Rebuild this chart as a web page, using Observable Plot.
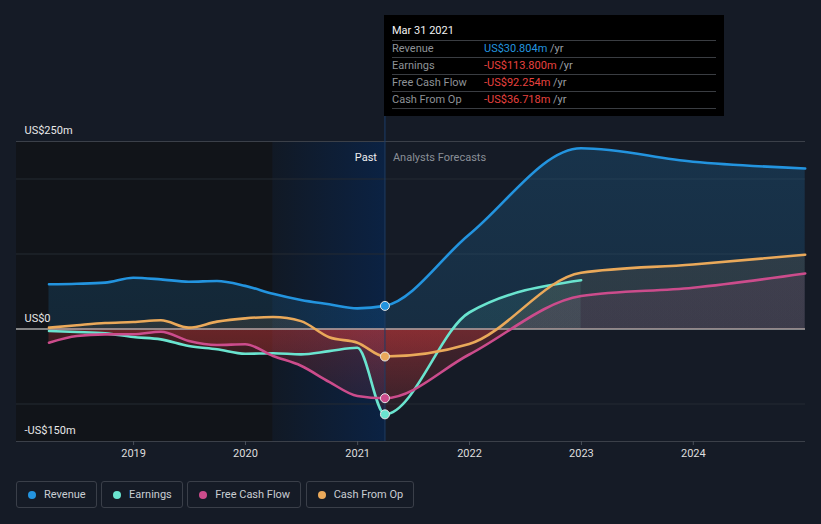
<!DOCTYPE html>
<html>
<head>
<meta charset="utf-8">
<script src="https://cdn.jsdelivr.net/npm/d3@7"></script>
<script src="https://cdn.jsdelivr.net/npm/@observablehq/plot@0.6"></script>
<style>
  html, body { margin: 0; padding: 0; }
  body { background: #151b26; width: 821px; height: 524px; overflow: hidden; position: relative; font-family: Roboto, "Noto Sans", sans-serif; }
  #chart { position: absolute; left: 0; top: 0; }
  #tip { position: absolute; left: 384px; top: 15px; width: 340px; height: 101px; background: #000; font-size: 11px; line-height: 11px; }
  #tip .t { position: absolute; left: 8px; color: #f2f2f2; }
  #tip .sep { position: absolute; left: 8px; width: 324px; height: 1px; background: #3a3d42; }
  #tip .lab { position: absolute; left: 8px; color: #8e9297; }
  #tip .val { position: absolute; left: 100px; }
  #tip .yr { color: #9a9ea3; }
  #legend { position: absolute; left: 16px; top: 481px; display: flex; gap: 4.5px; }
  #legend .item { height: 25px; border: 1px solid #3a3f49; border-radius: 3px; display: flex; align-items: center; padding: 0 10px 0 11px; font-size: 11px; color: #c9cdd3; }
  #legend .dot { width: 8px; height: 8px; border-radius: 50%; margin-right: 8px; }
</style>
</head>
<body>
<div id="chart"></div>
<div id="tip"></div>
<div id="legend"></div>
<script>
// ---- data ----
const quarterDates = ["2018-03-31","2018-06-30","2018-09-30","2018-12-31","2019-03-31","2019-06-30","2019-09-30","2019-12-31","2020-03-31","2020-06-30","2020-09-30","2020-12-31","2021-03-31"];
const forecastDates = ["2021-12-31","2022-12-31","2023-12-31","2024-12-31"];

const revenuePast = [59.6, 60.3, 61.8, 68.4, 66.2, 63.0, 64.0, 57.5, 47.0, 38.7, 33.0, 27.5, 30.804];
const revenueForecast = [126, 241, 223, 214];
const earningsPast = [-2.7, -4.0, -5.8, -10.7, -13.8, -22.7, -27.0, -33.0, -32.4, -33.8, -29.5, -25.0, -113.8];
const earningsForecast = [22, 65];
const fcfPast = [-18.2, -9.3, -7.2, -7.0, -3.6, -16.0, -21.3, -20.4, -36.0, -49.0, -70.5, -89.3, -92.254];
const fcfForecast = [-34, 44, 55, 74];
const cfoPast = [1.8, 5.0, 8.0, 9.3, 11.6, 1.8, 9.8, 14.2, 16.0, 10.5, -11.0, -18.2, -36.718];
const cfoForecast = [-20, 75, 86, 99];

const seriesNames = ["Revenue", "Earnings", "Free Cash Flow", "Cash From Op"];
const seriesColors = ["#2394df", "#6ae4cf", "#cc4c8c", "#eaa95a"];

const yTickValues = [250, 0, -150];
const yTickLabels = ["US$250m", "US$0", "-US$150m"];
const gridValues = [200, 100, -100];
const xTickYears = [2019, 2020, 2021, 2022, 2023, 2024];
const xDomain = ["2017-12-15", "2025-01-01"];
const highlightStart = "2020-03-31";
const pastEnd = "2021-03-31";

const tooltipDate = "Mar 31 2021";
const tooltipValues = ["US$30.804m", "-US$113.800m", "-US$92.254m", "-US$36.718m"];
const tooltipColors = ["#2394df", "#e8423f", "#e8423f", "#e8423f"];

// ---- build tables ----
function rows(past, fc) {
  const out = past.map((v, i) => ({date: new Date(quarterDates[i]), value: v}));
  fc.forEach((v, i) => out.push({date: new Date(forecastDates[i]), value: v}));
  return out;
}
const series = [
  rows(revenuePast, revenueForecast),
  rows(earningsPast, earningsForecast),
  rows(fcfPast, fcfForecast),
  rows(cfoPast, cfoForecast)
];
const dotOrder = [3, 2, 1, 0];
const dotRows = dotOrder.map(i => ({date: series[i][quarterDates.length - 1].date, value: series[i][quarterDates.length - 1].value, color: seriesColors[i]}));

const chart = Plot.plot({
  width: 821,
  height: 470,
  marginLeft: 16,
  marginRight: 16,
  marginTop: 141,
  marginBottom: 29,
  style: {background: "transparent", fontFamily: "Roboto, sans-serif", fontSize: "11px", overflow: "visible"},
  x: {type: "utc", domain: xDomain.map(d => new Date(d)), axis: null},
  y: {domain: [-150, 250], axis: null},
  marks: [
    Plot.rect([{x1: new Date(xDomain[0]), x2: new Date(highlightStart)}], {x1: "x1", x2: "x2", y1: -150, y2: 250, fill: "#111419"}),
    Plot.rect([{x1: new Date(highlightStart), x2: new Date(pastEnd)}], {x1: "x1", x2: "x2", y1: -150, y2: 250, fill: "url(#band)"}),
    Plot.ruleY(gridValues, {stroke: "#242a33"}),
    Plot.ruleY([250], {stroke: "#3b4049"}),
    Plot.ruleY([-150], {stroke: "#3b4049"}),
    ...series.map((s, i) => Plot.areaY(s, {x: "date", y: "value", curve: "monotone-x", fill: `url(#area${i})`})),
    Plot.ruleY([0], {stroke: "#a9a9a9", strokeWidth: 1.6}),
    Plot.ruleX([new Date(pastEnd)], {stroke: "#1b3d6a", insetTop: -126}),
    ...series.map((s, i) => Plot.line(s, {x: "date", y: "value", curve: "monotone-x", stroke: seriesColors[i], strokeWidth: 2.6})),
    Plot.dot(dotRows, {x: "date", y: "value", fill: "color", stroke: "#e6e6e6", strokeWidth: 1, r: 4.5}),
    Plot.text(yTickValues, {y: d => d, text: (d, i) => yTickLabels[i], frameAnchor: "left", dx: 8, dy: -11, textAnchor: "start", fill: "#e8e8e8"}),
    Plot.text([new Date(pastEnd)], {x: d => d, text: ["Past"], frameAnchor: "top", dx: -8, dy: 12, textAnchor: "end", fill: "#eeeeee"}),
    Plot.text([new Date(pastEnd)], {x: d => d, text: ["Analysts Forecasts"], frameAnchor: "top", dx: 8, dy: 12, textAnchor: "start", fill: "#8a8f97"}),
    Plot.axisX(xTickYears.map(y => new Date(Date.UTC(y, 0, 1))), {tickFormat: d => String(d.getUTCFullYear()), tickSize: 4, tickPadding: 4, stroke: "#4a505a", fill: "#dedede", label: null})
  ]
});

// gradients
const yS = chart.scale("y");
const yTop = yS.apply(250), yBot = yS.apply(-150), y0 = yS.apply(0);
const z = (y0 - yTop) / (yBot - yTop);
const ns = "http://www.w3.org/2000/svg";
const defs = document.createElementNS(ns, "defs");
function grad(id, attrs, stops) {
  const g = document.createElementNS(ns, "linearGradient");
  g.setAttribute("id", id);
  for (const k in attrs) g.setAttribute(k, attrs[k]);
  for (const [o, c, op] of stops) {
    const s = document.createElementNS(ns, "stop");
    s.setAttribute("offset", o);
    s.setAttribute("stop-color", c);
    s.setAttribute("stop-opacity", op);
    g.appendChild(s);
  }
  defs.appendChild(g);
}
grad("band", {x1: 0, x2: 1, y1: 0, y2: 0}, [[0, "#111925", 1], [1, "#0b2243", 1]]);
const vert = {gradientUnits: "userSpaceOnUse", x1: 0, x2: 0, y1: yTop, y2: yBot};
grad("area0", vert, [[0, seriesColors[0], 0.2], [z, seriesColors[0], 0.15], [z, "#e03c3c", 0.2], [1, "#e03c3c", 0.03]]);
grad("area1", vert, [[0, seriesColors[1], 0.12], [z, seriesColors[1], 0.1], [z, "#e03c3c", 0.24], [1, "#e03c3c", 0.03]]);
grad("area2", vert, [[0, seriesColors[2], 0.12], [z, seriesColors[2], 0.1], [z, "#e03c3c", 0.24], [1, "#e03c3c", 0.03]]);
grad("area3", vert, [[0, seriesColors[3], 0.12], [z, seriesColors[3], 0.1], [z, "#e03c3c", 0.24], [1, "#e03c3c", 0.03]]);
chart.insertBefore(defs, chart.firstChild);
document.getElementById("chart").appendChild(chart);

// tooltip
const tip = document.getElementById("tip");
let html = `<div class="t" style="top:10px">${tooltipDate}</div>`;
const sepTops = [25, 42, 59, 76, 93];
sepTops.forEach(t => html += `<div class="sep" style="top:${t}px"></div>`);
seriesNames.forEach((n, i) => {
  const top = 27.5 + i * 17;
  html += `<div class="lab" style="top:${top}px">${n}</div>`;
  html += `<div class="val" style="top:${top}px;color:${tooltipColors[i]}">${tooltipValues[i]} <span class="yr">/yr</span></div>`;
});
tip.innerHTML = html;

// legend
const legend = document.getElementById("legend");
seriesNames.forEach((n, i) => {
  const it = document.createElement("div");
  it.className = "item";
  it.innerHTML = `<span class="dot" style="background:${seriesColors[i]}"></span>${n}`;
  legend.appendChild(it);
});
</script>
</body>
</html>
